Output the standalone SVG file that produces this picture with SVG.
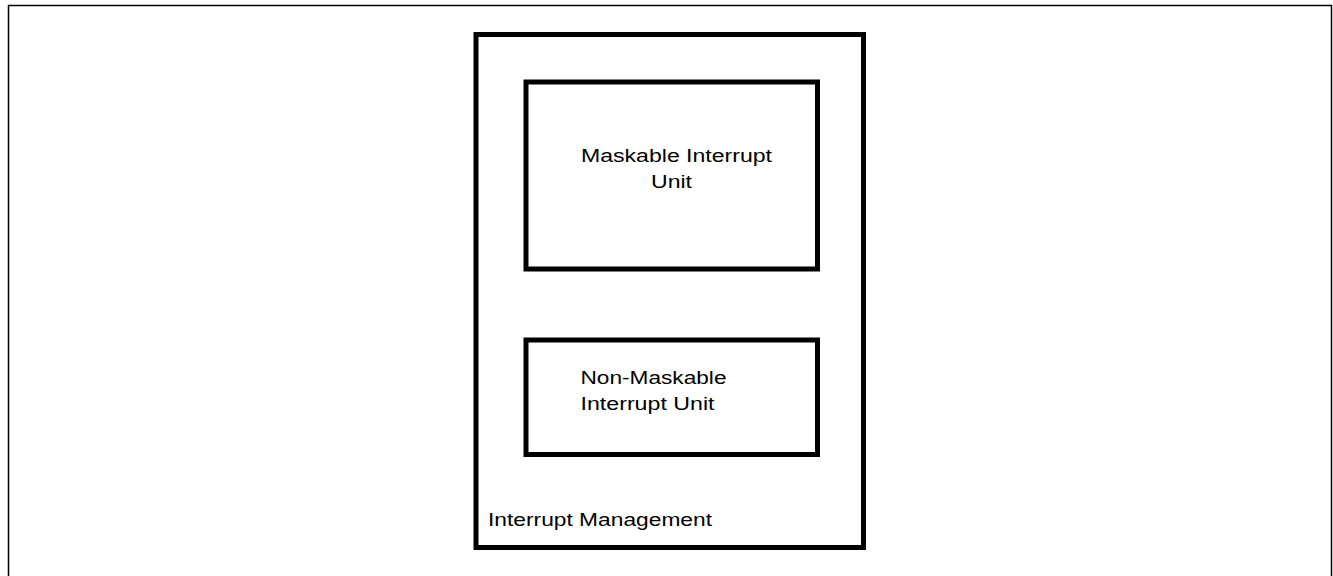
<svg xmlns="http://www.w3.org/2000/svg" width="1333" height="576" viewBox="0 0 1333 576">
<style>
.box{fill:none;stroke:#000;stroke-width:5}
.t{font-family:"Liberation Sans",Arial,sans-serif;font-size:18.7px;fill:#000}
</style>
<rect x="0" y="0" width="1333" height="576" fill="#fff"/>
<rect x="8.5" y="5.5" width="1323" height="620" fill="none" stroke="#000" stroke-width="1.5"/>
<g id="interrupt-management">
<rect class="box" x="476" y="34.5" width="387.5" height="513"/>
<text class="t" x="488" y="526" textLength="224" lengthAdjust="spacingAndGlyphs">Interrupt Management</text>
</g>
<g id="maskable-unit">
<rect class="box" x="526" y="82" width="291.5" height="187"/>
<text class="t" x="581" y="162" textLength="191" lengthAdjust="spacingAndGlyphs">Maskable Interrupt</text>
<text class="t" x="651" y="188" textLength="41" lengthAdjust="spacingAndGlyphs">Unit</text>
</g>
<g id="non-maskable-unit">
<rect class="box" x="526" y="340" width="291.5" height="114.5"/>
<text class="t" x="580.5" y="384" textLength="146" lengthAdjust="spacingAndGlyphs">Non-Maskable</text>
<text class="t" x="580.5" y="410" textLength="134" lengthAdjust="spacingAndGlyphs">Interrupt Unit</text>
</g>
<g id="connectors"></g>
</svg>
